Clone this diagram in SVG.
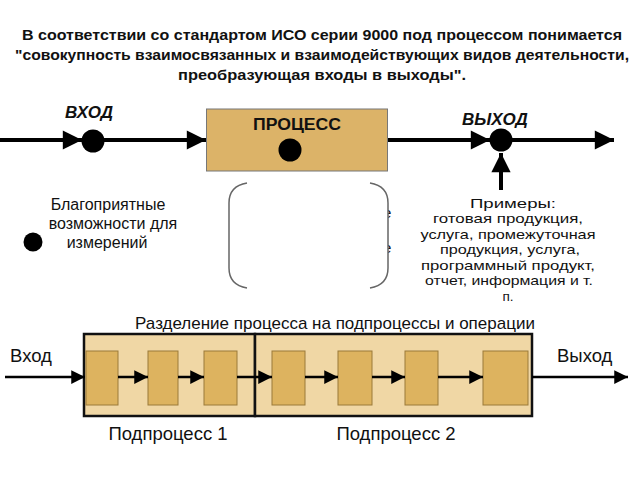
<svg xmlns="http://www.w3.org/2000/svg" width="640" height="480" viewBox="0 0 640 480">
<defs>
<style>
.t{font-family:"Liberation Sans",Arial,sans-serif;fill:#111}
.title{font-size:14.5px;font-weight:bold}
.lbl{font-size:17px;font-weight:bold;font-style:italic}
.note{font-size:13.5px}
.meas{font-size:16px}
.sub{font-size:18.5px}
.ln{stroke:#000;stroke-width:4;fill:none}
.ln2{stroke:#000;stroke-width:2.5;fill:none}
.dot{fill:#000}
.op{fill:#ddb35f;stroke:#9a7a3a;stroke-width:1}
.br{fill:none;stroke:#666;stroke-width:1.5}
</style>
<marker id="ah" viewBox="0 0 10 10" refX="10" refY="5" markerWidth="6.5" markerHeight="4.8" markerUnits="strokeWidth" orient="auto"><path d="M0,0 L10,5 L0,10 z" fill="#000"/></marker>
<marker id="ah2" viewBox="0 0 10 10" refX="10" refY="5" markerWidth="6.5" markerHeight="5.5" markerUnits="strokeWidth" orient="auto"><path d="M0,0 L10,5 L0,10 z" fill="#000"/></marker>
</defs>
<rect width="640" height="480" fill="#fff"/>

<g id="title" class="t title" text-anchor="middle">
<text x="322" y="40" textLength="600" lengthAdjust="spacingAndGlyphs">В соответствии со стандартом ИСО серии 9000 под процессом понимается</text>
<text x="322" y="60" textLength="614" lengthAdjust="spacingAndGlyphs">"совокупность взаимосвязанных и взаимодействующих видов деятельности,</text>
<text x="322" y="80" textLength="288" lengthAdjust="spacingAndGlyphs">преобразующая входы в выходы".</text>
</g>

<g id="connectors">
<line class="ln" x1="0" y1="140" x2="82" y2="140" marker-end="url(#ah)"/>
<line class="ln" x1="93" y1="140" x2="206" y2="140" marker-end="url(#ah)"/>
<line class="ln" x1="387" y1="140" x2="490" y2="140" marker-end="url(#ah)"/>
<line class="ln" x1="501" y1="140" x2="614" y2="140" marker-end="url(#ah)"/>
<line class="ln" x1="501" y1="190" x2="501" y2="153" marker-end="url(#ah)"/>
</g>

<g id="input">
<circle class="dot" cx="93" cy="141" r="11.5"/>
<text class="t lbl" x="65" y="118">ВХОД</text>
</g>

<g id="process">
<rect x="206.5" y="109" width="181" height="62" fill="#dcb368" stroke="#777" stroke-width="1"/>
<text class="t" x="297" y="130" text-anchor="middle" font-size="16" font-weight="bold" textLength="88" lengthAdjust="spacingAndGlyphs">ПРОЦЕСС</text>
<circle class="dot" cx="290" cy="150" r="11.5"/>
</g>

<g id="output">
<circle class="dot" cx="501" cy="140" r="11.5"/>
<text class="t lbl" x="462" y="125">ВЫХОД</text>
</g>

<g id="measure">
<circle class="dot" cx="33" cy="242" r="9.5"/>
<g class="t meas" text-anchor="middle">
<text x="108" y="210">Благоприятные</text>
<text x="113" y="229">возможности для</text>
<text x="107" y="248">измерений</text>
</g>
</g>

<g id="hidden">
<text class="t" x="383" y="218" font-size="15">е</text>
<text class="t" x="383" y="253" font-size="15">е</text>
<path d="M247,183 Q229,186 229,203 L229,268 Q229,285 247,288 L370,288 Q388,285 388,268 L388,203 Q388,186 370,183 Z" fill="#fff"/>
<path class="br" d="M247,183 Q229,186 229,203 L229,268 Q229,285 247,288"/>
<path class="br" d="M370,183 Q388,186 388,203 L388,268 Q388,285 370,288"/>
</g>

<g id="examples" class="t note" text-anchor="middle" lengthAdjust="spacingAndGlyphs">
<text x="513" y="208" textLength="86" lengthAdjust="spacingAndGlyphs">Примеры:</text>
<text x="508" y="223" textLength="150" lengthAdjust="spacingAndGlyphs">готовая продукция,</text>
<text x="508" y="239" textLength="175" lengthAdjust="spacingAndGlyphs">услуга, промежуточная</text>
<text x="510" y="254" textLength="140" lengthAdjust="spacingAndGlyphs">продукция, услуга,</text>
<text x="508" y="270" textLength="174" lengthAdjust="spacingAndGlyphs">программный продукт,</text>
<text x="509" y="285" textLength="168" lengthAdjust="spacingAndGlyphs">отчет, информация и т.</text>
<text x="508" y="301">п.</text>
</g>

<g id="breakdown">
<text class="t" x="335" y="329" text-anchor="middle" font-size="17" fill="#222">Разделение процесса на подпроцессы и операции</text>
<rect id="sub1" x="84" y="334" width="171" height="82" fill="#f0d7a5" stroke="#111" stroke-width="2.5"/>
<rect id="sub2" x="255" y="334" width="277" height="82" fill="#f0d7a5" stroke="#111" stroke-width="2.5"/>
<g id="ops">
<rect class="op" x="86" y="351" width="32" height="54"/>
<rect class="op" x="148" y="351" width="30" height="54"/>
<rect class="op" x="204" y="351" width="33" height="54"/>
<rect class="op" x="272" y="351" width="33" height="54"/>
<rect class="op" x="338" y="351" width="34" height="54"/>
<rect class="op" x="405" y="351" width="33" height="54"/>
<rect class="op" x="483" y="351" width="45" height="54"/>
</g>
<g id="connectors2">
<line class="ln2" x1="5" y1="377" x2="85" y2="377" marker-end="url(#ah2)"/>
<line class="ln2" x1="118" y1="377" x2="148" y2="377" marker-end="url(#ah2)"/>
<line class="ln2" x1="178" y1="377" x2="204" y2="377" marker-end="url(#ah2)"/>
<line class="ln2" x1="237" y1="377" x2="272" y2="377" marker-end="url(#ah2)"/>
<line class="ln2" x1="305" y1="377" x2="338" y2="377" marker-end="url(#ah2)"/>
<line class="ln2" x1="372" y1="377" x2="405" y2="377" marker-end="url(#ah2)"/>
<line class="ln2" x1="438" y1="377" x2="483" y2="377" marker-end="url(#ah2)"/>
<line class="ln2" x1="532" y1="377" x2="628" y2="377" marker-end="url(#ah2)"/>
</g>
<text class="t sub" x="10" y="362">Вход</text>
<text class="t sub" x="557" y="362">Выход</text>
<text class="t sub" x="168" y="440" text-anchor="middle">Подпроцесс 1</text>
<text class="t sub" x="396" y="440" text-anchor="middle">Подпроцесс 2</text>
</g>
</svg>
